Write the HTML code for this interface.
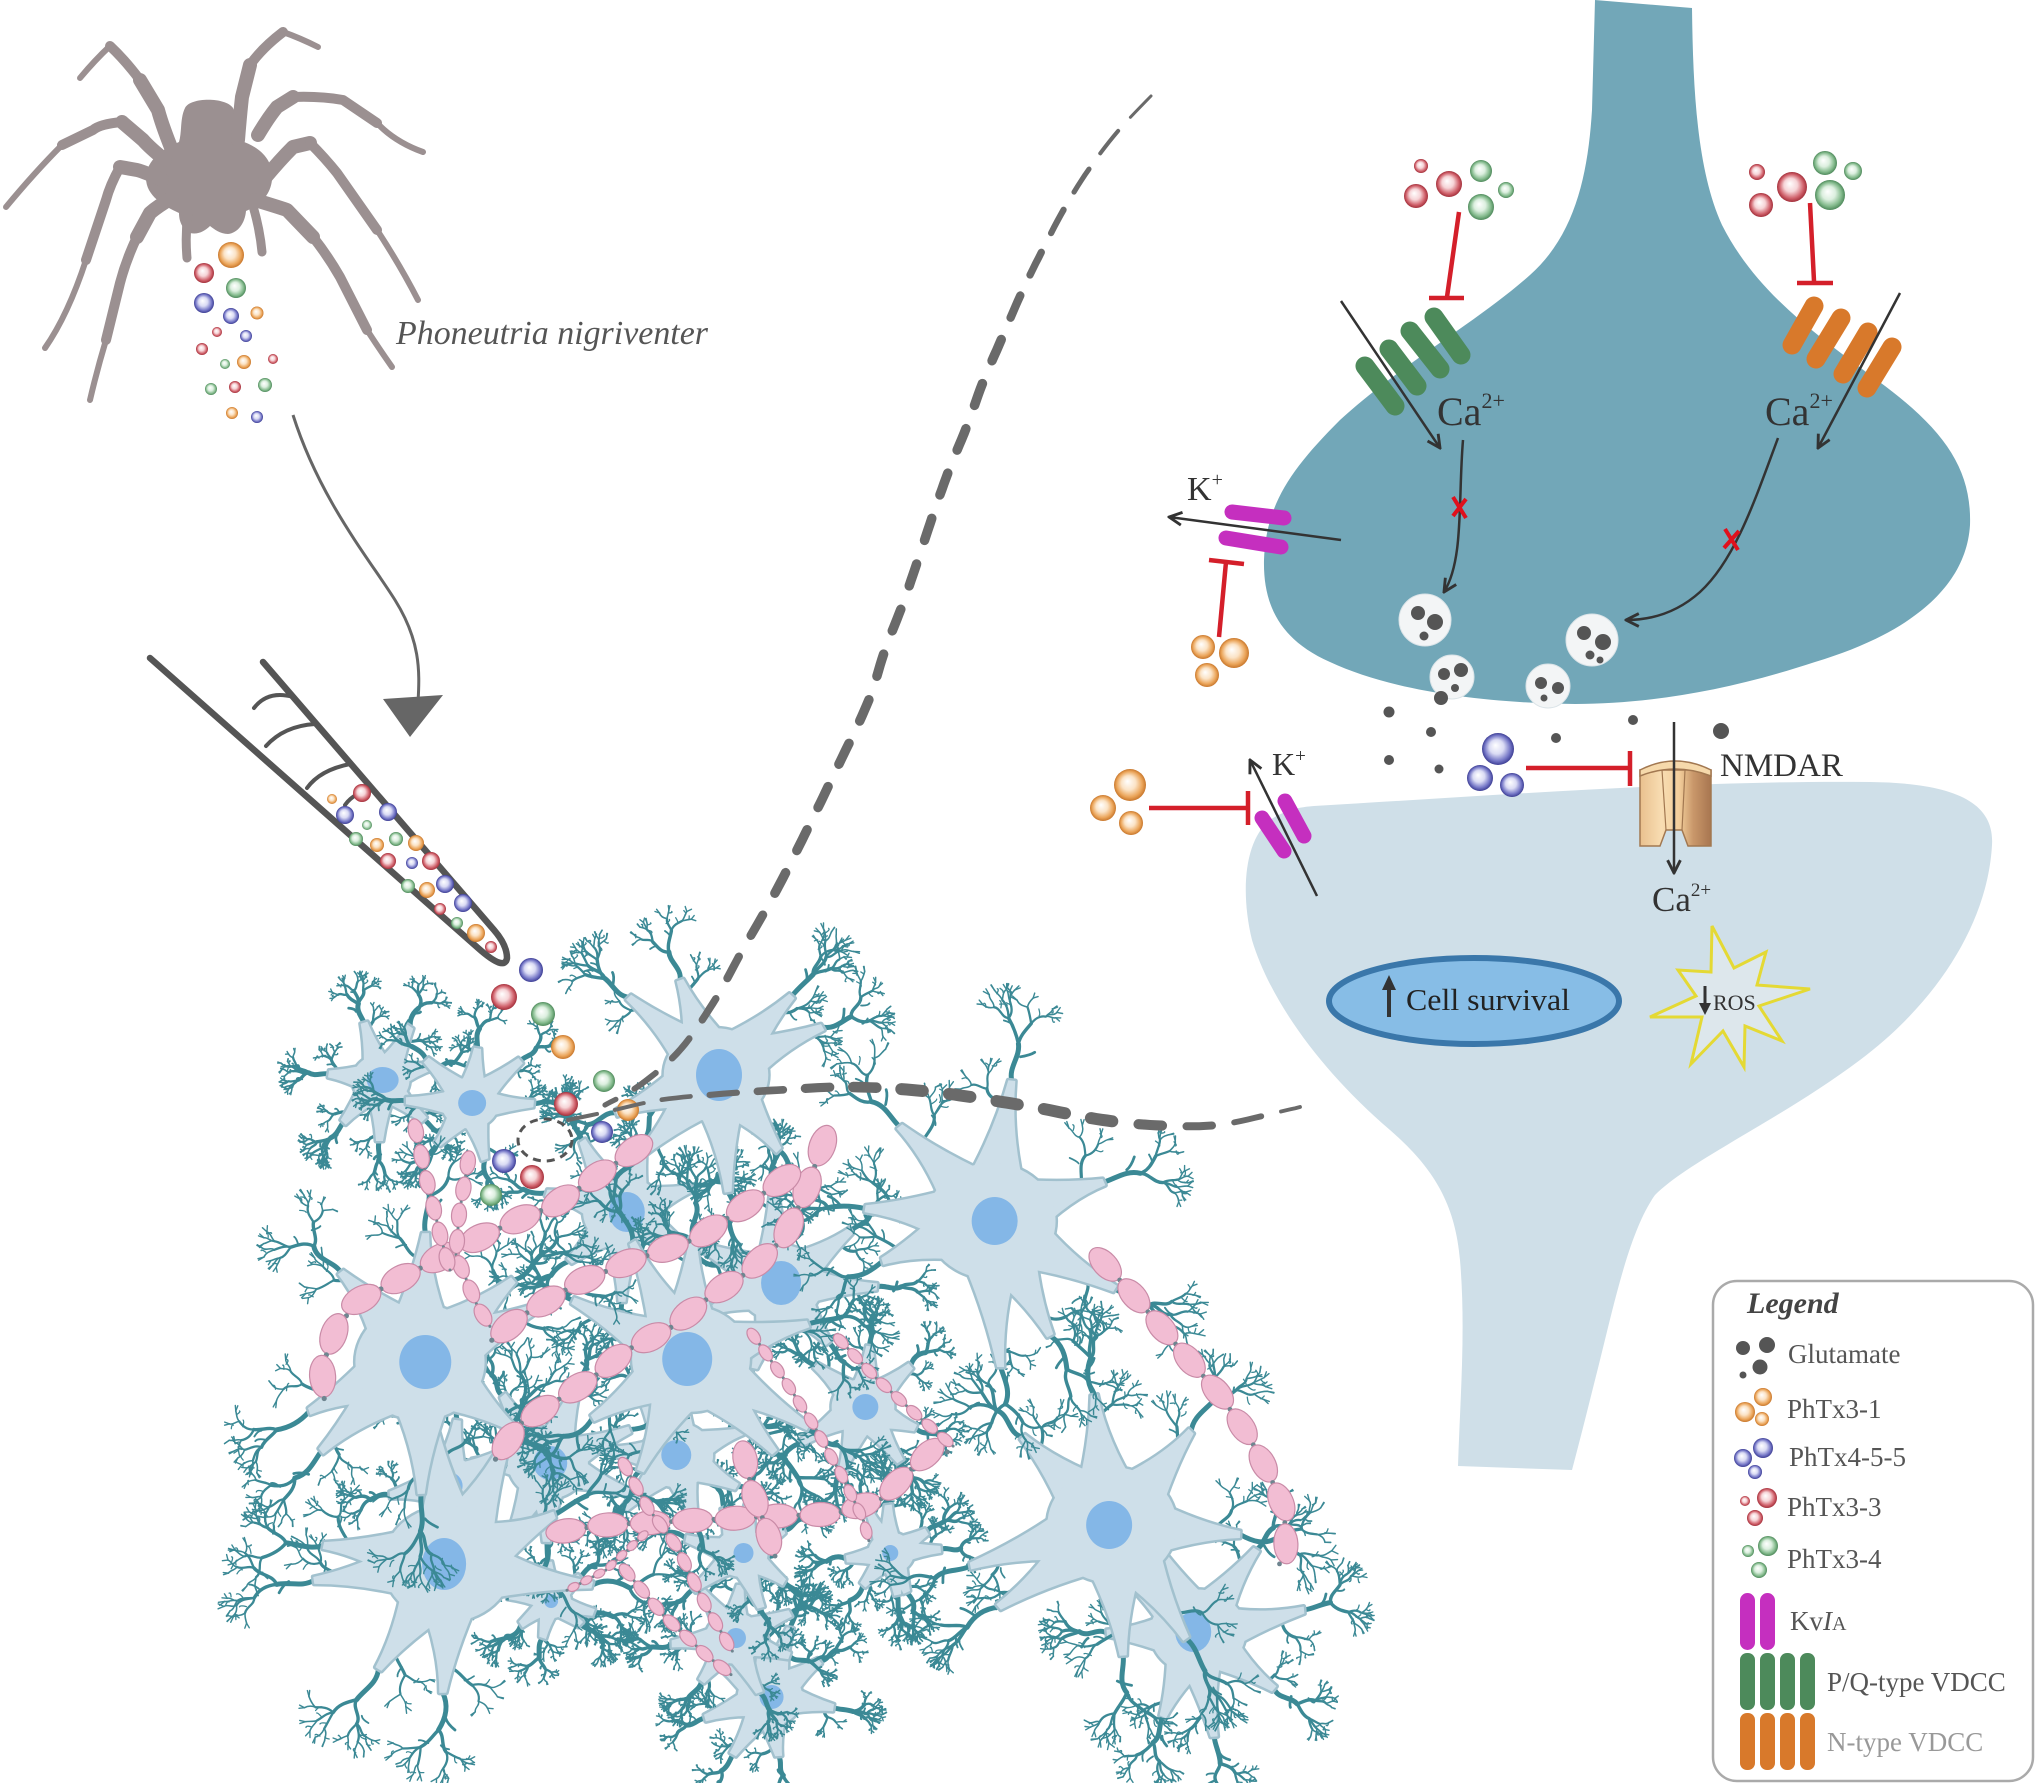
<!DOCTYPE html>
<html><head><meta charset="utf-8"><style>
html,body{margin:0;padding:0;background:#fff;}
svg{display:block;}
text{font-family:"Liberation Serif",serif;}
</style></head><body>
<svg id="s" xmlns="http://www.w3.org/2000/svg" width="2035" height="1783" viewBox="0 0 2035 1783">
<defs>
<radialGradient id="gO" cx="50%" cy="50%" r="50%" fx="42%" fy="38%"><stop offset="0" stop-color="#fff"/><stop offset="0.45" stop-color="#fbe3c6"/><stop offset="0.8" stop-color="#eba55a"/><stop offset="1" stop-color="#c8772c"/></radialGradient>
<radialGradient id="gR" cx="50%" cy="50%" r="50%" fx="42%" fy="38%"><stop offset="0" stop-color="#fff"/><stop offset="0.45" stop-color="#f6d4d7"/><stop offset="0.8" stop-color="#d0616b"/><stop offset="1" stop-color="#a3303b"/></radialGradient>
<radialGradient id="gG" cx="50%" cy="50%" r="50%" fx="42%" fy="38%"><stop offset="0" stop-color="#fff"/><stop offset="0.45" stop-color="#dcefdf"/><stop offset="0.8" stop-color="#83ba8c"/><stop offset="1" stop-color="#4e895b"/></radialGradient>
<radialGradient id="gB" cx="50%" cy="50%" r="50%" fx="42%" fy="38%"><stop offset="0" stop-color="#fff"/><stop offset="0.45" stop-color="#dadbf4"/><stop offset="0.8" stop-color="#7577c7"/><stop offset="1" stop-color="#3d3e94"/></radialGradient>
<linearGradient id="nm" x1="0" x2="1" y1="0" y2="0"><stop offset="0" stop-color="#e9c08e"/><stop offset="0.3" stop-color="#f8ddb2"/><stop offset="0.55" stop-color="#f3cf9c"/><stop offset="0.75" stop-color="#c9976a"/><stop offset="1" stop-color="#a87650"/></linearGradient>
<marker id="ah" viewBox="0 0 10 10" refX="9" refY="5" markerWidth="16" markerHeight="16" markerUnits="userSpaceOnUse" orient="auto"><path d="M1,1 L9,5 L1,9" fill="none" stroke="#333" stroke-width="1.8"/></marker>
</defs>

<!-- ===== Synapse ===== -->
<path d="M1314,806 C1500,795 1700,780 1870,782 C1950,783 1995,800 1992,845 C1988,920 1940,1000 1860,1060 C1780,1120 1690,1160 1655,1195 C1630,1230 1615,1300 1600,1360 C1590,1400 1580,1440 1572,1470 L1458,1466 C1460,1400 1466,1330 1460,1260 C1455,1200 1430,1165 1390,1130 C1320,1070 1270,1000 1252,940 C1240,890 1245,840 1270,820 C1285,810 1300,807 1314,806 Z" fill="#cfdfe8"/>
<path d="M1595,0 L1692,8 C1693,90 1697,170 1722,225 C1755,290 1810,330 1870,375 C1940,425 1972,465 1970,525 C1966,590 1905,635 1815,662 C1730,690 1650,704 1575,704 C1480,703 1390,690 1330,662 C1280,640 1263,605 1264,560 C1266,505 1290,470 1340,420 C1400,365 1480,320 1530,275 C1575,235 1588,175 1592,110 Z" fill="#72a7b8"/>

<!-- toxin clusters pre -->
<circle cx="1421" cy="166" r="7" fill="url(#gR)"/><circle cx="1449" cy="184" r="13" fill="url(#gR)"/><circle cx="1416" cy="196" r="12" fill="url(#gR)"/>
<circle cx="1481" cy="171" r="11" fill="url(#gG)"/><circle cx="1506" cy="190" r="8" fill="url(#gG)"/><circle cx="1481" cy="207" r="13" fill="url(#gG)"/>
<circle cx="1757" cy="172" r="8" fill="url(#gR)"/><circle cx="1792" cy="187" r="15" fill="url(#gR)"/><circle cx="1761" cy="205" r="12" fill="url(#gR)"/>
<circle cx="1825" cy="163" r="12" fill="url(#gG)"/><circle cx="1853" cy="171" r="9" fill="url(#gG)"/><circle cx="1830" cy="195" r="15" fill="url(#gG)"/>

<!-- inhibitors -->
<g stroke="#d41f2a" stroke-width="4.5" fill="none">
<path d="M1459,212 L1447,297 M1429,298 L1464,298"/>
<path d="M1810,203 L1814,281 M1797,283 L1833,283"/>
<path d="M1219,637 L1226,562 M1209,560 L1244,564"/>
<path d="M1149,808 L1247,808 M1248,791 L1248,825"/>
<path d="M1526,768 L1629,768 M1630,751 L1630,786"/>
</g>

<!-- green P/Q channel -->
<g stroke="#4d8a5b" stroke-width="19" stroke-linecap="round">
<line x1="1365" y1="366" x2="1395" y2="406"/><line x1="1389" y1="349" x2="1417" y2="386"/><line x1="1410" y1="331" x2="1440" y2="369"/><line x1="1434" y1="317" x2="1461" y2="355"/>
</g>
<line x1="1341" y1="301" x2="1440" y2="448" stroke="#333" stroke-width="2.5" marker-end="url(#ah)"/>
<!-- orange N channel -->
<g stroke="#d8792b" stroke-width="19" stroke-linecap="round">
<line x1="1792" y1="345" x2="1814" y2="306"/><line x1="1816" y1="359" x2="1841" y2="318"/><line x1="1843" y1="374" x2="1868" y2="332"/><line x1="1867" y1="388" x2="1892" y2="347"/>
</g>
<line x1="1900" y1="293" x2="1818" y2="448" stroke="#333" stroke-width="2.5" marker-end="url(#ah)"/>

<text x="1437" y="425" font-size="40" fill="#333">Ca<tspan font-size="22" dy="-17">2+</tspan></text>
<text x="1765" y="425" font-size="40" fill="#333">Ca<tspan font-size="22" dy="-17">2+</tspan></text>

<path d="M1463,440 C1458,500 1464,560 1444,592" fill="none" stroke="#333" stroke-width="2.5" marker-end="url(#ah)"/>
<path d="M1778,438 C1755,500 1735,560 1700,592 C1680,610 1655,620 1626,620" fill="none" stroke="#333" stroke-width="2.5" marker-end="url(#ah)"/>
<g stroke="#e0101c" stroke-width="4"><line x1="1453" y1="497" x2="1466" y2="518"/><line x1="1466" y1="499" x2="1453" y2="516"/><line x1="1725" y1="529" x2="1738" y2="550"/><line x1="1739" y1="531" x2="1724" y2="548"/></g>

<!-- pre K channel -->
<g stroke="#c52fbf" stroke-width="15" stroke-linecap="round"><line x1="1232" y1="512" x2="1284" y2="518"/><line x1="1226" y1="538" x2="1281" y2="547"/></g>
<line x1="1341" y1="540" x2="1169" y2="517" stroke="#333" stroke-width="2.5" marker-end="url(#ah)"/>
<text x="1187" y="500" font-size="34" fill="#333">K<tspan font-size="20" dy="-14">+</tspan></text>
<circle cx="1203" cy="647" r="12" fill="url(#gO)"/><circle cx="1234" cy="653" r="15" fill="url(#gO)"/><circle cx="1207" cy="675" r="12" fill="url(#gO)"/>

<!-- vesicles -->
<g fill="#f3f5f6" stroke="#dbe4e8" stroke-width="1"><circle cx="1425" cy="620" r="26"/><circle cx="1452" cy="677" r="22"/><circle cx="1592" cy="640" r="26"/><circle cx="1548" cy="686" r="22"/></g>
<g fill="#555"><circle cx="1418" cy="613" r="7"/><circle cx="1435" cy="622" r="8"/><circle cx="1424" cy="636" r="4.5"/>
<circle cx="1444" cy="674" r="6"/><circle cx="1461" cy="670" r="7"/><circle cx="1455" cy="688" r="4"/>
<circle cx="1584" cy="633" r="7"/><circle cx="1603" cy="642" r="8"/><circle cx="1590" cy="655" r="4.5"/><circle cx="1600" cy="660" r="3.5"/>
<circle cx="1541" cy="683" r="6"/><circle cx="1558" cy="688" r="6"/><circle cx="1544" cy="698" r="3.5"/>
<circle cx="1441" cy="698" r="7"/><circle cx="1389" cy="712" r="5.5"/><circle cx="1431" cy="732" r="5"/><circle cx="1389" cy="760" r="5"/><circle cx="1439" cy="769" r="4.5"/><circle cx="1556" cy="738" r="5"/><circle cx="1633" cy="720" r="5"/><circle cx="1721" cy="731" r="8"/></g>

<!-- blue cluster -->
<circle cx="1498" cy="749" r="16" fill="url(#gB)"/><circle cx="1480" cy="778" r="13" fill="url(#gB)"/><circle cx="1512" cy="785" r="12" fill="url(#gB)"/>

<!-- NMDAR -->
<path d="M1640,770 L1640,846 L1660,846 L1666,830 L1682,830 L1688,846 L1711,846 L1711,770 Z" fill="url(#nm)" stroke="#a27851" stroke-width="1.5"/>
<path d="M1640,770 Q1675,752 1711,770 L1711,776 Q1675,762 1640,776 Z" fill="#f6d9ab" stroke="#a27851" stroke-width="1.5"/>
<path d="M1662,770 L1666,830 M1685,770 L1682,830" stroke="#a27851" stroke-width="1.2" fill="none"/>
<line x1="1674" y1="722" x2="1674" y2="873" stroke="#333" stroke-width="2.5" marker-end="url(#ah)"/>
<text x="1720" y="776" font-size="33" fill="#333">NMDAR</text>
<text x="1652" y="911" font-size="35" fill="#333">Ca<tspan font-size="19" dy="-15">2+</tspan></text>

<!-- post K channel -->
<g stroke="#c52fbf" stroke-width="15" stroke-linecap="round"><line x1="1262" y1="818" x2="1284" y2="851"/><line x1="1285" y1="801" x2="1304" y2="836"/></g>
<line x1="1317" y1="896" x2="1250" y2="760" stroke="#333" stroke-width="2.5" marker-end="url(#ah)"/>
<text x="1272" y="775" font-size="32" fill="#333">K<tspan font-size="19" dy="-13">+</tspan></text>
<circle cx="1130" cy="785" r="16" fill="url(#gO)"/><circle cx="1103" cy="808" r="13" fill="url(#gO)"/><circle cx="1131" cy="823" r="12" fill="url(#gO)"/>

<!-- cell survival -->
<ellipse cx="1474" cy="1001" rx="145" ry="43" fill="#87bde6" stroke="#3a77aa" stroke-width="6"/>
<line x1="1389" y1="1017" x2="1389" y2="986" stroke="#333" stroke-width="4"/><polygon points="1382,990 1396,990 1389,975" fill="#333"/>
<text x="1406" y="1010" font-size="31" fill="#222" textLength="164" lengthAdjust="spacingAndGlyphs">Cell survival</text>
<!-- ROS -->
<polygon points="1712,926 1734,968 1766,952 1757,985 1810,989 1759,1006 1782,1041 1745,1026 1744,1067 1723,1031 1691,1064 1702,1017 1650,1017 1696,996 1678,970 1711,972" fill="#dde7ec" stroke="#e4d934" stroke-width="3" stroke-linejoin="miter"/>
<line x1="1705" y1="986" x2="1705" y2="1006" stroke="#333" stroke-width="3"/><polygon points="1699,1003 1711,1003 1705,1015" fill="#333"/>
<text x="1713" y="1010" font-size="22" fill="#333">ROS</text>

<!-- ===== Spider ===== -->
<g fill="#9b9091" stroke="#9b9091">
<path stroke="none" d="M185,108 C190,97 226,97 233,108 C239,120 236,133 241,141 C260,147 274,160 272,180 C270,198 257,206 246,211 C245,223 238,233 228,234 C220,234 214,229 210,226 C205,231 198,235 190,233 C182,229 179,221 179,213 C164,206 146,196 146,178 C146,160 164,148 179,142 C182,132 180,118 185,108 Z"/>
<g fill="none" stroke-linecap="round" stroke-linejoin="round">
<path d="M188,212 Q185,235 187,258" stroke-width="9"/><path d="M253,206 Q260,230 262,252" stroke-width="9"/>
<path d="M172,150 Q162,125 158,110 L140,80" stroke-width="14"/><path d="M140,80 Q125,60 110,46" stroke-width="10"/><path d="M110,46 Q95,60 80,78" stroke-width="6"/>
<path d="M238,140 Q240,115 242,97 L250,65" stroke-width="14"/><path d="M250,65 Q262,48 283,32" stroke-width="10"/><path d="M283,32 Q300,38 318,47" stroke-width="6"/>
<path d="M165,160 Q150,148 143,140 L122,122" stroke-width="14"/><path d="M122,122 Q100,124 93,130 L62,145" stroke-width="10"/><path d="M62,145 Q35,172 6,207" stroke-width="6"/>
<path d="M258,135 Q268,118 277,107 L293,97" stroke-width="14"/><path d="M293,97 Q320,96 343,100 L377,123" stroke-width="10"/><path d="M377,123 Q395,142 423,152" stroke-width="6"/>
<path d="M162,180 Q145,172 137,170 L120,167" stroke-width="14"/><path d="M120,167 Q110,185 106,200 L86,260" stroke-width="10"/><path d="M86,260 Q68,315 45,348" stroke-width="6"/>
<path d="M265,178 Q280,160 293,147 L310,143" stroke-width="14"/><path d="M310,143 Q325,158 337,173 L377,230" stroke-width="10"/><path d="M377,230 Q400,265 418,300" stroke-width="6"/>
<path d="M172,198 Q158,206 150,213 L137,237" stroke-width="14"/><path d="M137,237 Q126,260 120,283 L106,340" stroke-width="10"/><path d="M106,340 Q97,370 90,400" stroke-width="6"/>
<path d="M255,200 Q275,206 287,210 L313,237" stroke-width="14"/><path d="M313,237 Q328,256 340,277 L367,330" stroke-width="10"/><path d="M367,330 Q380,350 392,367" stroke-width="6"/>
</g></g>
<text x="396" y="344" font-size="34" font-style="italic" fill="#555" textLength="312" lengthAdjust="spacingAndGlyphs">Phoneutria nigriventer</text>

<!-- spider drip -->
<circle cx="231" cy="255" r="13" fill="url(#gO)"/><circle cx="204" cy="273" r="10" fill="url(#gR)"/><circle cx="236" cy="288" r="10" fill="url(#gG)"/><circle cx="204" cy="303" r="10" fill="url(#gB)"/><circle cx="231" cy="316" r="8" fill="url(#gB)"/><circle cx="257" cy="313" r="6.5" fill="url(#gO)"/><circle cx="217" cy="332" r="5" fill="url(#gR)"/><circle cx="246" cy="336" r="6" fill="url(#gB)"/><circle cx="202" cy="349" r="6" fill="url(#gR)"/><circle cx="244" cy="362" r="7" fill="url(#gO)"/><circle cx="273" cy="359" r="5" fill="url(#gR)"/><circle cx="225" cy="364" r="5" fill="url(#gG)"/><circle cx="211" cy="389" r="6" fill="url(#gG)"/><circle cx="235" cy="387" r="6" fill="url(#gR)"/><circle cx="265" cy="385" r="7" fill="url(#gG)"/><circle cx="232" cy="413" r="6" fill="url(#gO)"/><circle cx="257" cy="417" r="6" fill="url(#gB)"/>

<!-- curved arrow -->
<path d="M293,415 C320,500 370,560 395,600 C420,640 420,670 418,702" fill="none" stroke="#666" stroke-width="3"/>
<polygon points="383,699 443,695 410,737" fill="#666"/>

<!-- fang -->
<path d="M150,658 L478,948 Q505,972 507,958 Q507,945 494,930 L263,662" fill="none" stroke="#555" stroke-width="6.5" stroke-linecap="round" stroke-linejoin="round"/>
<g fill="none" stroke="#555" stroke-width="4" stroke-linecap="round">
<path d="M293,697 Q268,690 254,708"/><path d="M315,724 Q284,726 266,746"/><path d="M350,764 Q320,770 307,788"/><path d="M373,790 Q354,792 345,805"/>
</g>
<g id="fangballs"></g>

<!-- neurons -->
<g id="neurons"></g>
<g id="axons"></g>

<!-- falling balls -->
<circle cx="531" cy="970" r="12" fill="url(#gB)"/><circle cx="504" cy="997" r="13" fill="url(#gR)"/><circle cx="543" cy="1014" r="12" fill="url(#gG)"/><circle cx="563" cy="1047" r="12" fill="url(#gO)"/><circle cx="604" cy="1081" r="11" fill="url(#gG)"/><circle cx="566" cy="1104" r="12" fill="url(#gR)"/><circle cx="628" cy="1110" r="11" fill="url(#gO)"/><circle cx="602" cy="1132" r="11" fill="url(#gB)"/><circle cx="504" cy="1161" r="12" fill="url(#gB)"/><circle cx="532" cy="1177" r="12" fill="url(#gR)"/><circle cx="491" cy="1195" r="11" fill="url(#gG)"/>

<!-- dashed lines -->
<g id="dashes"></g>
<ellipse cx="545" cy="1140" rx="27" ry="21" fill="none" stroke-width="3" stroke-dasharray="8 6" stroke="#555"/>

<!-- ===== Legend ===== -->
<rect x="1713" y="1281" width="320" height="500" rx="24" fill="#fff" stroke="#aaa" stroke-width="2.5"/>
<text x="1747" y="1313" font-size="30" font-weight="bold" font-style="italic" fill="#444">Legend</text>
<g fill="#555"><circle cx="1743" cy="1348" r="7"/><circle cx="1767" cy="1345" r="8"/><circle cx="1760" cy="1367" r="7.5"/><circle cx="1743" cy="1375" r="3.5"/></g>
<circle cx="1763" cy="1397" r="9" fill="url(#gO)"/><circle cx="1745" cy="1412" r="10" fill="url(#gO)"/><circle cx="1762" cy="1419" r="7" fill="url(#gO)"/>
<circle cx="1763" cy="1448" r="10" fill="url(#gB)"/><circle cx="1743" cy="1458" r="9" fill="url(#gB)"/><circle cx="1755" cy="1472" r="7" fill="url(#gB)"/>
<circle cx="1767" cy="1498" r="10" fill="url(#gR)"/><circle cx="1745" cy="1501" r="5" fill="url(#gR)"/><circle cx="1755" cy="1518" r="8" fill="url(#gR)"/>
<circle cx="1768" cy="1546" r="10" fill="url(#gG)"/><circle cx="1748" cy="1551" r="6" fill="url(#gG)"/><circle cx="1759" cy="1570" r="8" fill="url(#gG)"/>
<g fill="#c52fbf"><rect x="1740" y="1593" width="15" height="57" rx="7.5"/><rect x="1760" y="1593" width="15" height="57" rx="7.5"/></g>
<g fill="#4d8a5b"><rect x="1740" y="1653" width="15" height="57" rx="7"/><rect x="1760" y="1653" width="15" height="57" rx="7"/><rect x="1780" y="1653" width="15" height="57" rx="7"/><rect x="1800" y="1653" width="15" height="57" rx="7"/></g>
<g fill="#d8792b"><rect x="1740" y="1713" width="15" height="57" rx="7"/><rect x="1760" y="1713" width="15" height="57" rx="7"/><rect x="1780" y="1713" width="15" height="57" rx="7"/><rect x="1800" y="1713" width="15" height="57" rx="7"/></g>
<g font-size="27" fill="#555">
<text x="1788" y="1363">Glutamate</text>
<text x="1787" y="1418">PhTx3-1</text>
<text x="1789" y="1466">PhTx4-5-5</text>
<text x="1787" y="1516">PhTx3-3</text>
<text x="1787" y="1568">PhTx3-4</text>
<text x="1790" y="1630">Kv<tspan font-style="italic">I</tspan><tspan font-size="20">A</tspan></text>
<text x="1827" y="1691">P/Q-type VDCC</text>
<text x="1827" y="1751" fill="#999">N-type VDCC</text>
</g>
</svg>
<script>
(function(){
const NS="http://www.w3.org/2000/svg";
const SVG=document.getElementById('s');
function el(tag,attrs,parent){const e=document.createElementNS(NS,tag);for(const k in attrs)e.setAttribute(k,attrs[k]);parent.appendChild(e);return e;}
function rng(seed){return function(){seed|=0;seed=seed+0x6D2B79F5|0;let t=Math.imul(seed^seed>>>15,1|seed);t=t+Math.imul(t^t>>>7,61|t)^t;return((t^t>>>14)>>>0)/4294967296;};}
const f=v=>v.toFixed(1);
const FB=document.getElementById('fangballs');
[["O",332,799,5],["R",362,793,9],["B",345,815,9],["B",388,812,9],["G",367,825,5],["G",356,839,7],["O",377,845,7],["G",396,839,7],["O",416,843,8],["R",388,861,8],["B",412,863,6],["R",431,861,9],["G",408,886,7],["O",427,890,8],["B",445,884,9],["R",440,909,6],["B",463,903,9],["G",457,923,6],["O",476,933,9],["R",491,947,6]].forEach(b=>el('circle',{cx:b[1],cy:b[2],r:b[3],fill:'url(#g'+b[0]+')'},FB));

function branch(g,R,x,y,a,len,w,depth){
  const ex=x+Math.cos(a)*len, ey=y+Math.sin(a)*len;
  const px=-Math.sin(a),py=Math.cos(a);
  const o1=(R()-0.5)*len*0.5, o2=(R()-0.5)*len*0.5;
  const c1x=x+(ex-x)/3+px*o1, c1y=y+(ey-y)/3+py*o1;
  const c2x=x+2*(ex-x)/3+px*o2, c2y=y+2*(ey-y)/3+py*o2;
  el('path',{d:'M'+f(x)+','+f(y)+' C'+f(c1x)+','+f(c1y)+' '+f(c2x)+','+f(c2y)+' '+f(ex)+','+f(ey),'stroke-width':w.toFixed(2)},g);
  if(R()<0.6){const ta=a+(R()<0.5?-1:1)*(0.6+R()*0.6), tl=len*0.4;
    el('path',{d:'M'+f(c2x)+','+f(c2y)+' q'+f(Math.cos(ta)*tl*0.5+px*3)+','+f(Math.sin(ta)*tl*0.5+py*3)+' '+f(Math.cos(ta)*tl)+','+f(Math.sin(ta)*tl),'stroke-width':Math.max(1.3,w*0.55).toFixed(2)},g);}
  if(depth>0){
    const nb=R()<0.35?3:2;
    for(let j=0;j<nb;j++){
      let s=(j===0?-1:1)*(0.3+R()*0.5);
      if(j===2) s=(R()-0.5)*0.3;
      branch(g,R,ex,ey,a+s,len*(0.6+R()*0.15),w*0.68,depth-1);
    }
  } else {
    for(let j=0;j<2;j++){const ta=a+(R()-0.5)*1.6, tl=len*0.5;
      el('path',{d:'M'+f(ex)+','+f(ey)+' l'+f(Math.cos(ta)*tl)+','+f(Math.sin(ta)*tl),'stroke-width':1.4},g);}
  }
}
const N={
A:[381,1080,30,16,13,6],B:[470,1103,30,14,13,6],C:[716,1075,55,23,26,7],D:[623,1212,42,18,20,6],
E:[991,1221,68,23,24,7],F:[420,1362,68,26,27,7],G:[691,1359,62,25,27,7],H:[780,1283,45,20,22,6],
I:[863,1407,33,13,13,6],J:[548,1463,42,17,17,6],K:[677,1455,38,15,15,6],L:[448,1486,34,14,14,5],
M:[448,1564,68,22,26,7],Nn:[741,1553,28,10,10,6],O:[891,1553,24,8,8,7],P:[552,1601,20,7,7,7],
Q:[734,1638,30,10,10,6],R:[770,1697,34,12,12,7],S:[1112,1525,68,23,24,7],T:[1198,1632,50,18,20,7]};
const order=["R","Q","P","O","Nn","I","K","J","L","D","H","A","B","T","S","M","G","F","E","C"];
const NG=document.getElementById('neurons');
order.forEach((key,idx)=>{
  const [cx,cy,r,nrx,nry,k0]=N[key]; const R=rng(idx*977+131);
  const k=k0+1;
  const g=el('g',{},NG);
  const tg=el('g',{stroke:'#3b8995',fill:'none','stroke-linecap':'round'},g);
  const og=el('g',{fill:'#a2c1ce',stroke:'#a2c1ce','stroke-width':5,'stroke-linejoin':'round'},g);
  const fg=el('g',{fill:'#cedfe9'},g);
  const a0=R()*Math.PI*2;
  let d='';
  const tl=Math.max(r*0.55,20);
  for(let i=0;i<k;i++){
    const a=a0+i*2*Math.PI/k+(R()-0.5)*0.6;
    const pl=r*(0.7+R()*0.5);
    const ux=Math.cos(a),uy=Math.sin(a),px=-uy,py=ux;
    const bw=r*0.45,tw=3.5;
    const bx=cx+ux*r*0.5,by=cy+uy*r*0.5;
    const bend=(R()-0.5)*pl*0.4;
    const tx=cx+ux*(r+pl)+px*bend,ty=cy+uy*(r+pl)+py*bend;
    const mx=cx+ux*(r+pl*0.25)+px*bend*0.3,my=cy+uy*(r+pl*0.25)+py*bend*0.3;
    const q=tw+bw*0.18;
    d+='M'+f(bx+px*bw)+','+f(by+py*bw)+' Q'+f(mx+px*q)+','+f(my+py*q)+' '+f(tx+px*tw)+','+f(ty+py*tw)+' L'+f(tx-px*tw)+','+f(ty-py*tw)+' Q'+f(mx-px*q)+','+f(my-py*q)+' '+f(bx-px*bw)+','+f(by-py*bw)+'Z ';
    const ta=Math.atan2(ty-my,tx-mx);
    branch(tg,R,tx,ty,ta,tl,5,3);
    const sa=a+(R()<0.5?-1:1)*(0.7+R()*0.4);
    const sx=cx+ux*(r+pl*0.6),sy=cy+uy*(r+pl*0.6);
    branch(tg,R,sx,sy,sa,tl*0.7,3.2,2);
  }
  el('path',{d:d},og); el('ellipse',{cx:cx,cy:cy,rx:r*0.95,ry:r*0.85},og);
  el('path',{d:d},fg); el('ellipse',{cx:cx,cy:cy,rx:r*0.95,ry:r*0.85},fg);
  el('ellipse',{cx:cx+(R()-0.5)*r*0.2,cy:cy,rx:nrx,ry:nry,fill:'#84b7e7'},g);
});
const AX=document.getElementById('axons');
const axons=[
 [26,42,[[652,1138],[606,1170],[556,1204],[502,1227],[456,1249],[413,1272],[360,1300],[336,1328],[322,1367],[326,1425]]],
 [15,24,[[470,1150],[459,1215],[456,1255],[477,1305],[495,1335]]],
 [15,24,[[413,1118],[427,1181],[441,1238],[450,1270]]],
 [26,42,[[830,1125],[805,1193],[784,1238],[748,1272],[713,1294],[670,1328],[627,1350],[591,1379],[556,1401],[520,1424],[495,1460]]],
 [26,42,[[800,1168],[748,1204],[698,1238],[634,1260],[577,1283],[520,1317],[480,1350]]],
 [24,40,[[545,1534],[606,1525],[663,1522],[720,1519],[777,1516],[834,1514],[880,1500],[905,1475],[930,1452],[975,1452]]],
 [24,38,[[741,1440],[752,1491],[763,1519],[778,1565]]],
 [24,40,[[1091,1249],[1127,1288],[1162,1328],[1191,1362],[1220,1395],[1248,1435],[1269,1474],[1284,1508],[1286,1546],[1270,1590]]],
 [11,18,[[748,1328],[784,1379],[813,1424],[841,1474],[863,1519],[870,1545]]],
 [11,18,[[834,1334],[877,1379],[920,1418],[960,1452]]],
 [12,20,[[620,1457],[648,1508],[677,1547],[705,1604],[734,1654]]],
 [8,12,[[648,1531],[606,1570],[560,1594]]],
 [12,20,[[620,1564],[663,1615],[705,1654],[734,1677]]]
];
axons.forEach(ax=>{
  const [W,L,pts]=ax;
  const segs=[];let total=0;
  for(let i=0;i<pts.length-1;i++){const dx=pts[i+1][0]-pts[i][0],dy=pts[i+1][1]-pts[i][1];const l=Math.hypot(dx,dy);segs.push([pts[i][0],pts[i][1],dx,dy,l,total]);total+=l;}
  function at(s){for(const sg of segs){if(s<=sg[5]+sg[4]){const t=(s-sg[5])/sg[4];return [sg[0]+sg[2]*t,sg[1]+sg[3]*t,Math.atan2(sg[3],sg[2])*180/Math.PI];}}const sg=segs[segs.length-1];return [sg[0]+sg[2],sg[1]+sg[3],Math.atan2(sg[3],sg[2])*180/Math.PI];}
  const gap=2.5;let s=1;
  const g=el('g',{},AX);
  while(s+L<=total+4){
    const c=at(s+L/2);
    el('ellipse',{cx:f(c[0]),cy:f(c[1]),rx:L/2,ry:W/2,transform:'rotate('+f(c[2])+' '+f(c[0])+' '+f(c[1])+')',fill:'#f2bdd3',stroke:'#c98ba7','stroke-width':1.2},g);
    const dpt=at(s+L+gap/2);
    el('circle',{cx:f(dpt[0]),cy:f(dpt[1]),r:Math.max(1.5,W/10),fill:'#6f8590'},g);
    s+=L+gap;
  }
});
// dashed lines with tapering width
const DG=document.getElementById('dashes');
function dashed(pts,step,frac,wfn){
  let d='M'+pts[0][0]+','+pts[0][1];
  for(let i=0;i<pts.length-1;i++){
    const p0=pts[i-1]||pts[i],p1=pts[i],p2=pts[i+1],p3=pts[i+2]||pts[i+1];
    const c1=[p1[0]+(p2[0]-p0[0])/6,p1[1]+(p2[1]-p0[1])/6];
    const c2=[p2[0]-(p3[0]-p1[0])/6,p2[1]-(p3[1]-p1[1])/6];
    d+=' C'+f(c1[0])+','+f(c1[1])+' '+f(c2[0])+','+f(c2[1])+' '+p2[0]+','+p2[1];
  }
  const p=el('path',{d:d,fill:'none',stroke:'none'},DG);
  const L=p.getTotalLength();
  for(let s=0;s<L;s+=step){
    const t=s/L, w=wfn(t);
    const core=Math.max(2,step*frac-w);
    const e=Math.min(s+core,L);
    let dd='';
    for(let k=0;k<=4;k++){const q=p.getPointAtLength(s+(e-s)*k/4);dd+=(k?' L':'M')+f(q.x)+','+f(q.y);}
    el('path',{d:dd,fill:'none',stroke:'#6a6a6a','stroke-width':w.toFixed(2),'stroke-linecap':'round','stroke-linejoin':'round'},DG);
  }
}
try{
dashed([[1151,96],[1118,131],[1089,169],[1064,209],[1042,251],[1021,294],[1002,338],[983,382],[967,426],[949,470],[933,515],[918,560],[902,606],[885,650],[868,702],[838,766],[807,830],[775,893],[742,951],[715,1000],[680,1050],[640,1085],[605,1105]],48,0.68,
 t=>t<0.25?3+t/0.25*6.5:(t<0.75?9.5:9.5-(t-0.75)/0.25*4.5));
dashed([[568,1120],[606,1112],[660,1100],[720,1094],[780,1090],[850,1087],[933,1092],[1027,1106],[1090,1118],[1150,1125],[1217,1125],[1283,1111],[1300,1107]],48,0.7,
 t=>t<0.1?4:(t<0.45?4+(t-0.1)/0.35*8:(t<0.72?12:12-(t-0.72)/0.28*9)));
}catch(e){}
})();
</script>
</body></html>
